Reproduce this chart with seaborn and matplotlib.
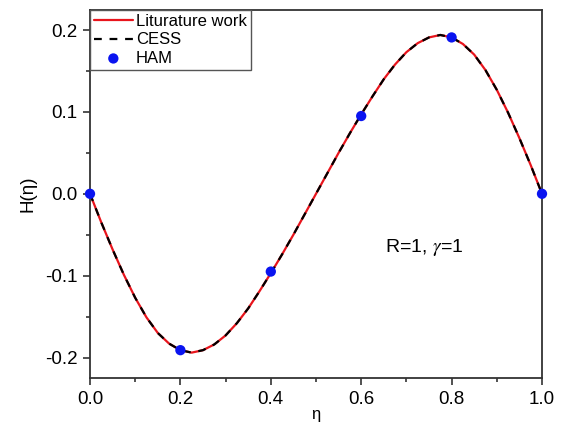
import numpy as np
import pandas as pd
import matplotlib
matplotlib.use("Agg")
import matplotlib.pyplot as plt
import seaborn as sns

# Velocity profile H(eta) for R=1, gamma=1
eta_half = [0.000, 0.025, 0.050, 0.075, 0.100, 0.125, 0.150, 0.175, 0.200,
            0.225, 0.250, 0.275, 0.300, 0.325, 0.350, 0.375, 0.400, 0.425,
            0.450, 0.475, 0.500]
h_half = [0.000, -0.035, -0.068, -0.099, -0.127, -0.151, -0.170, -0.183, -0.191,
          -0.194, -0.191, -0.184, -0.173, -0.158, -0.140, -0.119, -0.097, -0.074,
          -0.050, -0.025, 0.000]
eta_line = eta_half + [0.525, 0.550, 0.575, 0.600, 0.625, 0.650, 0.675, 0.700,
                       0.725, 0.750, 0.775, 0.800, 0.825, 0.850, 0.875, 0.900,
                       0.925, 0.950, 0.975, 1.000]
h_line = h_half + [0.025, 0.050, 0.074, 0.097, 0.119, 0.140, 0.158, 0.173,
                   0.184, 0.191, 0.194, 0.191, 0.183, 0.170, 0.151, 0.127,
                   0.099, 0.068, 0.035, 0.000]

# HAM solution points
eta_ham = [0.0, 0.2, 0.4, 0.6, 0.8, 1.0]
h_ham = [0.000, -0.191, -0.095, 0.095, 0.191, 0.000]

x_ticks = [0.0, 0.2, 0.4, 0.6, 0.8, 1.0]
y_ticks = [-0.2, -0.1, 0.0, 0.1, 0.2]

sns.set_theme(style="ticks")
plt.rcParams["font.family"] = ["Liberation Sans", "DejaVu Sans"]
plt.rcParams["mathtext.fontset"] = "stix"
plt.rcParams["text.color"] = "black"
plt.rcParams["axes.labelcolor"] = "black"

lines = pd.DataFrame({"eta": eta_line, "H": h_line})
ham = pd.DataFrame({"eta": eta_ham, "H": h_ham})

fig = plt.figure(figsize=(5.65, 4.32), dpi=100)
ax = fig.add_axes([90 / 565, 1 - 378 / 432, 452 / 565, 368 / 432])

sns.lineplot(data=lines, x="eta", y="H", ax=ax, color="#e8141c", lw=1.6,
             label="Liturature work", sort=False)
sns.lineplot(data=lines, x="eta", y="H", ax=ax, color="black", lw=1.6,
             linestyle=(0, (3.5, 3.5)), label="CESS", sort=False)
sns.scatterplot(data=ham, x="eta", y="H", ax=ax, color="#0a14f0", s=55,
                edgecolor="none", label="HAM", zorder=5, clip_on=False)

ax.set_xlim(0.0, 1.0)
ax.set_ylim(-0.225, 0.2245)
ax.set_xticks(x_ticks)
ax.set_xticklabels([f"{v:.1f}" for v in x_ticks])
ax.set_yticks(y_ticks)
ax.set_yticklabels([f"{v:.1f}" for v in y_ticks])
ax.set_xticks(np.arange(0.1, 1.0, 0.2), minor=True)
ax.set_yticks(np.arange(-0.15, 0.2, 0.1), minor=True)
ax.tick_params(axis="both", which="major", direction="out", length=5, width=1.2,
               labelsize=13.5, color="#333333", labelcolor="black", pad=4)
ax.tick_params(axis="both", which="minor", direction="out", length=3, width=1.2,
               color="#333333")
for side in ["left", "bottom", "right", "top"]:
    ax.spines[side].set_visible(True)
    ax.spines[side].set_color("#333333")
    ax.spines[side].set_linewidth(1.3)

ax.set_xlabel("η", fontsize=12, labelpad=0)
ax.set_ylabel("H(η)", fontsize=13.5, labelpad=6)

ax.text(0.74, -0.066, r"R=1, $\gamma$=1", fontsize=14, ha="center", va="center")

leg = ax.legend(loc="upper left", borderaxespad=0, fontsize=12,
                frameon=True, fancybox=False, framealpha=1,
                edgecolor="#555555", handlelength=2.3, handletextpad=0.2,
                borderpad=0.25, labelspacing=0.2)
leg.get_frame().set_linewidth(1.0)

fig.savefig("out.png", dpi=100)
